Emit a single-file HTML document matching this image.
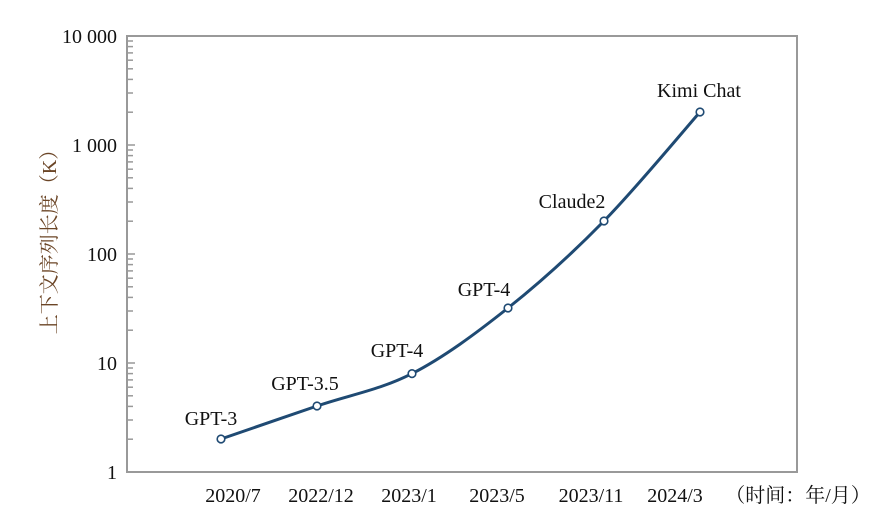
<!DOCTYPE html>
<html><head><meta charset="utf-8"><style>
html,body{margin:0;padding:0;background:#fff;}
svg{display:block;font-family:"Liberation Serif","Noto Serif CJK SC",serif;}
</style></head><body>
<svg id="s" width="892" height="516" viewBox="0 0 892 516" xmlns="http://www.w3.org/2000/svg">
<g id="ticks" stroke="#999" stroke-width="1.5"></g>
<path d="M127 36 V472 H797 V36 Z" fill="none" stroke="#999" stroke-width="2"/>
<g font-size="20" fill="#111" text-anchor="end">
<text x="117" y="43">10 000</text>
<text x="117" y="152">1 000</text>
<text x="117" y="261">100</text>
<text x="117" y="370">10</text>
<text x="117" y="479">1</text>
</g>
<text transform="translate(56,237) rotate(-90)" font-size="20" fill="#6b4526" text-anchor="middle">上下文序列长度（K）</text>
<g font-size="20" fill="#111" text-anchor="middle">
<text x="233" y="502">2020/7</text>
<text x="321" y="502">2022/12</text>
<text x="409" y="502">2023/1</text>
<text x="497" y="502">2023/5</text>
<text x="591" y="502">2023/11</text>
<text x="675" y="502">2024/3</text>
<text x="798" y="502">（时间：年/月）</text>
</g>
<path d="M221 439 C237 433.5 285.2 416.9 317 406 C348.8 395.1 380.2 389.9 412 373.6 C443.8 357.3 476 333.4 508 308 C540 282.6 572 253.7 604 221 C636 188.3 684 130.2 700 112" fill="none" stroke="#1f4a73" stroke-width="3"/>
<g fill="#fff" stroke="#1f4a73" stroke-width="1.6">
<circle cx="221" cy="439" r="3.8"/><circle cx="317" cy="406" r="3.8"/><circle cx="412" cy="373.6" r="3.8"/>
<circle cx="508" cy="308" r="3.8"/><circle cx="604" cy="221" r="3.8"/><circle cx="700" cy="112" r="3.8"/>
</g>
<g font-size="20" fill="#111" text-anchor="middle">
<text x="211" y="425">GPT-3</text>
<text x="305" y="390">GPT-3.5</text>
<text x="397" y="357">GPT-4</text>
<text x="484" y="296">GPT-4</text>
<text x="572" y="208">Claude2</text>
<text x="699" y="97">Kimi Chat</text>
</g>
</svg>
<script>
var g=document.getElementById('ticks'),h='';
for(var d=0;d<4;d++){var base=472-109*d;for(var k=2;k<=9;k++){var y=base-Math.log10(k)*109;h+='<line x1="127" x2="133" y1="'+y.toFixed(1)+'" y2="'+y.toFixed(1)+'"/>';}
h+='<line x1="127" x2="135" y1="'+base+'" y2="'+base+'"/>';}
g.innerHTML=h;
</script>
</body></html>
